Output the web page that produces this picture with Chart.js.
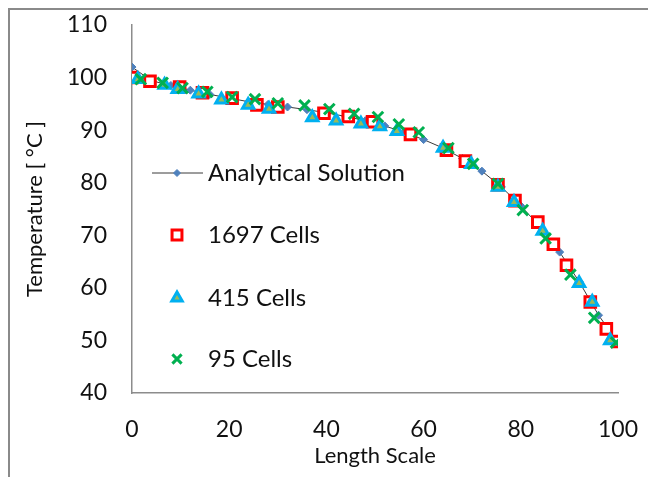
<!DOCTYPE html>
<html>
<head>
<meta charset="utf-8">
<script src="https://cdn.jsdelivr.net/npm/chart.js@4/dist/chart.umd.min.js"></script>
<style>
  html, body { margin: 0; padding: 0; background: #fff; }
  #wrap { position: relative; width: 648px; height: 477px; overflow: hidden; }
  #frame { position: absolute; left: 8px; top: 8px; width: 700px; height: 600px;
           border-top: 2px solid #8a8a8a; border-left: 2px solid #8a8a8a; }
  #chart { position: absolute; left: 0; top: 0; }
</style>
</head>
<body>
<div id="wrap">
  <div id="frame"></div>
  <canvas id="chart" width="648" height="477"></canvas>
</div>
<script>
// Series data
const seriesNames = ['Analytical Solution', '1697 Cells', '415 Cells', '95 Cells'];

const analyticX = [0, 4, 8, 12, 16, 20, 24, 28, 32, 36, 40, 44, 48, 52, 56, 60, 64, 68, 72, 76, 80, 84, 88, 92, 96, 100];
const analyticT = [102, 99.4, 98.5, 97.6, 96.8, 96.1, 95.4, 94.9, 94.4, 93.9, 93.3, 92.6, 91.8, 90.8, 89.6, 88.2, 86.6, 84.6, 82.2, 79.2, 75.6, 71.6, 66.8, 61.2, 54.8, 49.6];

const cells1697X = [0, 3.7, 9.8, 14.5, 20.6, 25.7, 30, 39.5, 44.5, 49.5, 57.3, 64.7, 68.6, 75.3, 78.8, 83.5, 86.7, 89.4, 94.3, 97.6, 100];
const cells1697T = [100, 99.3, 98.2, 97.1, 96.1, 94.8, 94.4, 93.2, 92.6, 91.6, 89.2, 86.2, 84.1, 79.6, 76.6, 72.5, 68.3, 64.3, 57.3, 52.2, 49.8];

const cells415X = [1.2, 6.7, 9.4, 13.7, 18.4, 23.9, 28.2, 37.1, 42, 47.1, 51, 54.5, 64, 69.8, 75.3, 78.6, 84.5, 92, 94.7, 98.4];
const cells415T = [99.7, 98.6, 97.8, 96.9, 95.8, 94.8, 94.0, 92.4, 91.8, 91.2, 90.7, 89.8, 86.6, 83.5, 79.2, 76.3, 70.8, 60.9, 57.3, 50];

const cells95X = [1.8, 6.3, 10.4, 15.5, 20.6, 25.3, 30, 35.5, 40.6, 45.7, 50.6, 54.9, 59, 65.1, 70.2, 75.3, 80.4, 85.1, 90.2, 95.1, 99.6];
const cells95T = [99.7, 99.0, 98.0, 97.3, 96.3, 95.9, 95.1, 94.7, 94.0, 93.1, 92.5, 91.1, 89.6, 86.6, 83.6, 79.8, 74.8, 69.4, 62.5, 54.3, 49.6];

const xTicks = [0, 20, 40, 60, 80, 100];
const yTicks = [40, 50, 60, 70, 80, 90, 100, 110];

function pts(xs, ys) {
    return xs.map((x, i) => ({ x: x, y: ys[i] }));
}

const FONT = 'Lato, Calibri, "Open Sans", sans-serif';
const TEXT = '#111111';
const AXIS = '#8c8c8c';

// Legend drawn inside the plot area, like the Excel one
const insideLegend = {
    id: 'insideLegend',
    afterDatasetsDraw(chart) {
        const ctx = chart.ctx;
        const left = chart.chartArea.left;
        const rowY = [173, 235, 298, 359];
        chart.data.datasets.forEach((ds, i) => {
            const y = rowY[i];
            const mx = left + 45;
            ctx.save();
            if (ds.showLine) {
                ctx.strokeStyle = ds.borderColor;
                ctx.lineWidth = 1;
                ctx.beginPath();
                ctx.moveTo(left + 20, y);
                ctx.lineTo(left + 71, y);
                ctx.stroke();
            }
            ctx.fillStyle = ds.pointBackgroundColor;
            ctx.strokeStyle = ds.pointBorderColor;
            ctx.lineWidth = ds.pointBorderWidth;
            Chart.helpers.drawPoint(ctx, {
                pointStyle: ds.pointStyle,
                radius: ds.legendRadius,
                borderWidth: ds.pointBorderWidth,
                rotation: 0
            }, mx, y);
            ctx.fillStyle = TEXT;
            ctx.font = '24px ' + FONT;
            ctx.textAlign = 'left';
            ctx.textBaseline = 'middle';
            ctx.fillText(ds.label, left + 76, y);
            ctx.restore();
        });
    }
};

new Chart(document.getElementById('chart').getContext('2d'), {
    type: 'scatter',
    data: {
        datasets: [{
            label: seriesNames[0],
            data: pts(analyticX, analyticT),
            showLine: true,
            borderColor: '#3a3a3a',
            borderWidth: 1,
            pointStyle: 'rectRot',
            pointRadius: 4,
            legendRadius: 3.5,
            pointBackgroundColor: '#4f81bd',
            pointBorderColor: '#4f81bd',
            pointBorderWidth: 1,
            order: 4
        }, {
            label: seriesNames[1],
            data: pts(cells1697X, cells1697T),
            showLine: false,
            pointStyle: 'rect',
            pointRadius: 7.5,
            legendRadius: 7,
            pointBackgroundColor: '#ffffff',
            pointBorderColor: '#ff0000',
            pointBorderWidth: 3,
            order: 3
        }, {
            label: seriesNames[2],
            data: pts(cells415X, cells415T),
            showLine: false,
            pointStyle: 'triangle',
            pointRadius: 6.5,
            legendRadius: 6,
            pointBackgroundColor: '#9bbb59',
            pointBorderColor: '#00b0f0',
            pointBorderWidth: 3,
            order: 2
        }, {
            label: seriesNames[3],
            data: pts(cells95X, cells95T),
            showLine: false,
            pointStyle: 'crossRot',
            pointRadius: 7.5,
            legendRadius: 6.5,
            pointBackgroundColor: '#00b050',
            pointBorderColor: '#00b050',
            pointBorderWidth: 3,
            order: 1
        }]
    },
    options: {
        responsive: false,
        animation: false,
        events: [],
        layout: { padding: { top: 25, right: 30, left: 0, bottom: 0 } },
        plugins: { legend: { display: false }, tooltip: { enabled: false } },
        scales: {
            x: {
                type: 'linear',
                min: 0,
                max: 100,
                afterBuildTicks: s => { s.ticks = xTicks.map(v => ({ value: v })); },
                afterFit: s => { s.height = 84; },
                // invisible tick marks give the gap between axis and labels
                grid: { display: true, drawOnChartArea: false, drawTicks: true, tickLength: 20, color: 'rgba(0,0,0,0)' },
                border: { display: true, color: AXIS, width: 1.5 },
                ticks: { color: TEXT, font: { family: FONT, size: 23 }, padding: 3, maxRotation: 0 },
                title: { display: true, text: 'Length Scale', color: TEXT,
                         font: { family: FONT, size: 22 }, padding: { top: 0, bottom: 8 } }
            },
            y: {
                type: 'linear',
                min: 40,
                max: 110,
                afterBuildTicks: s => { s.ticks = yTicks.map(v => ({ value: v })); },
                afterFit: s => { s.width = 132; },
                grid: { display: true, drawOnChartArea: false, drawTicks: true, tickLength: 22, color: 'rgba(0,0,0,0)' },
                border: { display: true, color: AXIS, width: 1.5 },
                ticks: { color: TEXT, font: { family: FONT, size: 23 }, padding: 3 },
                title: { display: true, text: 'Temperature [ °C ]', color: TEXT,
                         font: { family: FONT, size: 22 }, padding: { top: 22, bottom: 0 } }
            }
        }
    },
    plugins: [insideLegend]
});
</script>
</body>
</html>
